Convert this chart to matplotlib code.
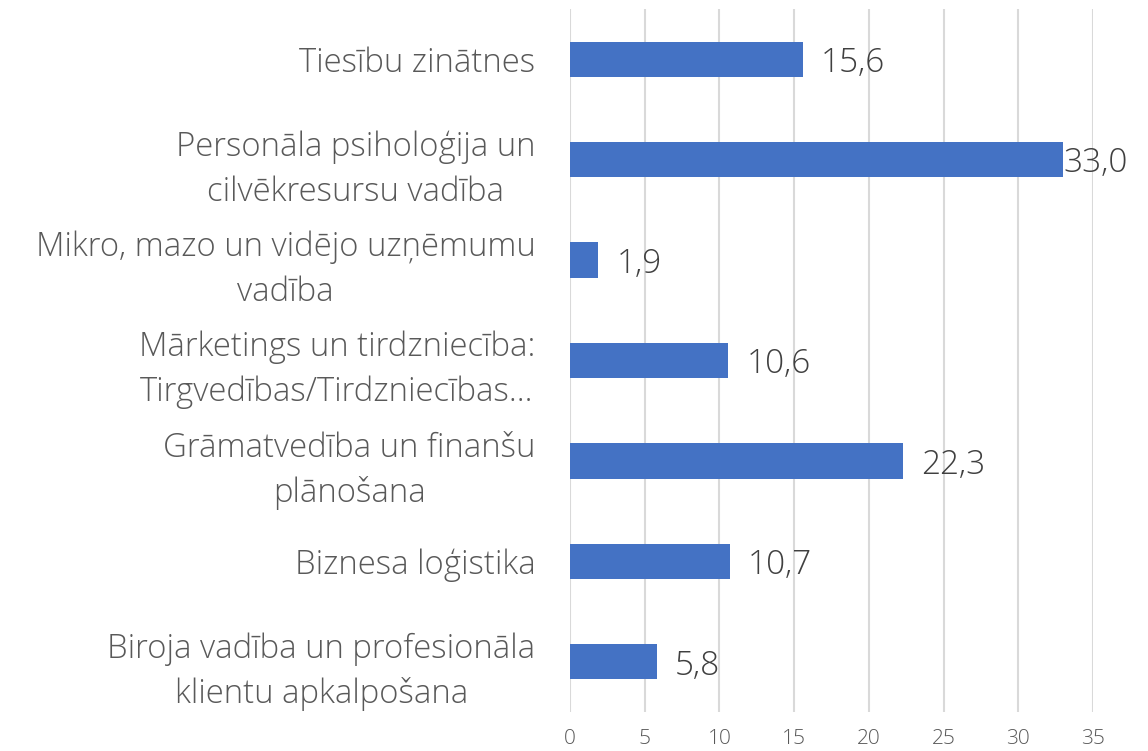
import matplotlib
matplotlib.use('Agg')
import matplotlib.pyplot as plt

# Data (top to bottom as shown)
categories = [
    "Tiesību zinātnes",
    "Personāla psiholoģija un\ncilvēkresursu vadība",
    "Mikro, mazo un vidējo uzņēmumu\nvadība",
    "Mārketings un tirdzniecība:\nTirgvedības/Tirdzniecības…",
    "Grāmatvedība un finanšu\nplānošana",
    "Biznesa loģistika",
    "Biroja vadība un profesionāla\nklientu apkalpošana",
]
values = [15.6, 33.0, 1.9, 10.6, 22.3, 10.7, 5.8]
xticks = [0, 5, 10, 15, 20, 25, 30, 35]

plt.rcParams['font.family'] = ['Open Sans', 'DejaVu Sans']

fig = plt.figure(figsize=(11.48, 7.51), dpi=100)
ax = fig.add_axes([570 / 1148, 1 - 712 / 751, (1093 - 570) / 1148, (712 - 9) / 751])

y = list(range(len(categories)))
ax.barh(y, values, height=0.35, color='#4472C4', zorder=3)

ax.set_xlim(0, 35)
ax.set_ylim(len(categories) - 0.5, -0.5)
ax.set_xticks(xticks)
ax.set_xticklabels([str(t) for t in xticks], fontsize=15, color='#595959', fontweight='light')
ax.set_yticks(y)
ax.set_yticklabels(categories, fontsize=23.7, color='#595959', fontweight='light',
                   multialignment='center', linespacing=1.45, va='center_baseline')
ax.tick_params(axis='both', length=0)
ax.tick_params(axis='y', pad=25)
ax.tick_params(axis='x', pad=12)
for s in ax.spines.values():
    s.set_visible(False)
ax.grid(axis='x', color='#D9D9D9', linewidth=1.5, zorder=0)
ax.set_axisbelow(True)

for yi, v in zip(y, values):
    off = 0.0 if v + 3 > 35 else 1.2
    ax.text(v + off, yi, f"{v:.1f}".replace('.', ','), va='center_baseline', ha='left',
            fontsize=24, color='#404040', fontweight='light', zorder=4)

fig.savefig('out.png', dpi=100)
